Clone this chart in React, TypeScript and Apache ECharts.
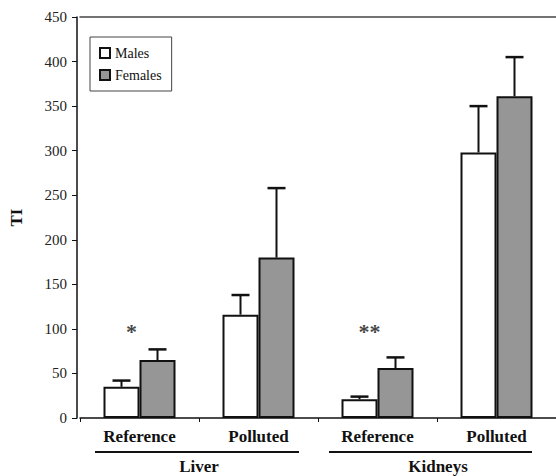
import React, { useEffect, useRef } from "react";
import * as echarts from "echarts";

const categories = ["Reference", "Polluted", "Reference", "Polluted"];
const groups = ["Liver", "Kidneys"];
const males = [35, 116, 21, 298];
const malesErr = [42, 138, 24, 350];
const females = [65, 180, 56, 361];
const femalesErr = [77, 258, 68, 405];
const yTicks = { min: 0, max: 450, interval: 50 };
const stars = [
  { cat: 0, value: 98, text: "*" },
  { cat: 2, value: 98, text: "**" },
];

const SERIF = "Liberation Serif";

export default function App() {
  const ref = useRef<HTMLDivElement>(null);
  useEffect(() => {
    if (!ref.current) return;
    const chart = echarts.init(ref.current, null, { renderer: "svg" });
    const BW = 36;
    const errSeries = (vals: number[], errs: number[], sign: number, name: string) => ({
      type: "custom",
      name: name + "-err",
      z: 1,
      silent: true,
      data: vals.map((v, i) => [i, v, errs[i]]),
      renderItem: (params: any, api: any) => {
        const i = api.value(0);
        const base = api.coord([i, api.value(1)]);
        const top = api.coord([i, api.value(2)]);
        const x = base[0] + sign * BW / 2;
        return {
          type: "group",
          children: [
            { type: "line", shape: { x1: x, y1: base[1], x2: x, y2: top[1] }, style: { stroke: "#111", lineWidth: 2 } },
            { type: "line", shape: { x1: x - 9, y1: top[1], x2: x + 9, y2: top[1] }, style: { stroke: "#111", lineWidth: 2.5 } },
          ],
        };
      },
    });
    chart.setOption({
      animation: false,
      backgroundColor: "#fff",
      textStyle: { fontFamily: SERIF },
      grid: { left: 75, right: -2, top: 17, bottom: 58, containLabel: false },
      legend: {
        data: ["Males", "Females"],
        orient: "vertical",
        left: 90,
        top: 37,
        padding: [9, 10, 9, 9],
        itemGap: 8,
        itemWidth: 10,
        itemHeight: 10,
        borderColor: "#444",
        borderWidth: 1,
        icon: "rect",
        textStyle: { fontFamily: SERIF, fontSize: 14, color: "#111" },
      },
      xAxis: [
        {
          type: "category",
          data: categories,
          position: "bottom",
          axisLine: { lineStyle: { color: "#111", width: 1.5 } },
          axisTick: { show: true, length: 4, lineStyle: { color: "#111" } },
          axisLabel: { fontFamily: SERIF, fontWeight: "bold", fontSize: 17, color: "#111", margin: 10 },
        },
        {
          type: "category",
          data: categories,
          position: "top",
          axisLine: { lineStyle: { color: "#444", width: 1.5 } },
          axisTick: { show: false },
          axisLabel: { show: false },
        },
      ],
      yAxis: {
        type: "value",
        min: yTicks.min,
        max: yTicks.max,
        interval: yTicks.interval,
        offset: 3,
        name: "TI",
        nameLocation: "middle",
        nameGap: 52,
        nameRotate: 90,
        nameTextStyle: { fontFamily: SERIF, fontWeight: "bold", fontSize: 17, color: "#111" },
        splitLine: { show: false },
        axisLine: { show: true, lineStyle: { color: "#111", width: 1.5 } },
        axisTick: { show: true, length: 5, lineStyle: { color: "#111" } },
        axisLabel: { fontFamily: SERIF, fontSize: 15, color: "#222", margin: 10 },
      },
      series: [
        {
          type: "bar",
          name: "Males",
          data: males,
          barWidth: BW,
          barGap: "0%",
          z: 2,
          itemStyle: { color: "#fff", borderColor: "#111", borderWidth: 2 },
        },
        {
          type: "bar",
          name: "Females",
          data: females,
          barWidth: BW,
          barGap: "0%",
          z: 2,
          itemStyle: { color: "#969696", borderColor: "#111", borderWidth: 2 },
        },
        errSeries(males, malesErr, -1, "Males"),
        errSeries(females, femalesErr, 1, "Females"),
        {
          type: "scatter",
          name: "stars",
          symbolSize: 0,
          data: stars.map((s) => ({ value: [s.cat, s.value], label: { formatter: s.text } })),
          label: {
            show: true,
            position: "inside",
            offset: [-8, 1],
            fontFamily: SERIF,
            fontWeight: "bold",
            fontSize: 22,
            color: "#111",
          },
        },
      ],
      graphic: [
        { type: "line", shape: { x1: 95, y1: 452, x2: 299, y2: 452 }, style: { stroke: "#111", lineWidth: 2 } },
        { type: "line", shape: { x1: 329, y1: 452, x2: 532, y2: 452 }, style: { stroke: "#111", lineWidth: 2 } },
        {
          type: "text",
          x: 199,
          y: 466,
          style: { text: groups[0], fontFamily: SERIF, fontWeight: "bold", fontSize: 17, fill: "#111", align: "center", verticalAlign: "middle" },
        },
        {
          type: "text",
          x: 438,
          y: 466,
          style: { text: groups[1], fontFamily: SERIF, fontWeight: "bold", fontSize: 17, fill: "#111", align: "center", verticalAlign: "middle" },
        },
      ],
    });
    return () => chart.dispose();
  }, []);
  return <div ref={ref} style={{ position: "fixed", left: 0, top: 0, width: 556, height: 476 }} />;
}
